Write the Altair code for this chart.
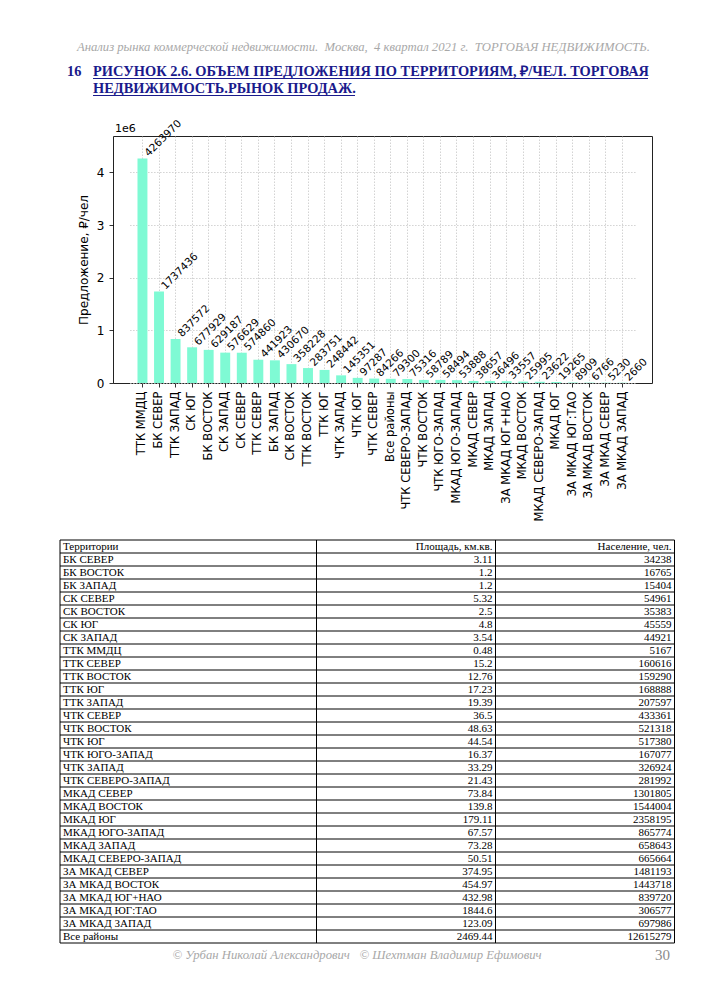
import altair as alt
import pandas as pd

# ---------------- text content ----------------
header_text = "Анализ рынка коммерческой недвижимости.\u00a0 Москва,\u00a0 4 квартал 2021 г.\u00a0 ТОРГОВАЯ НЕДВИЖИМОСТЬ."
title_num = "16"
title_lines = [
    "РИСУНОК 2.6. ОБЪЕМ ПРЕДЛОЖЕНИЯ ПО ТЕРРИТОРИЯМ, ₽/ЧЕЛ. ТОРГОВАЯ",
    "НЕДВИЖИМОСТЬ.РЫНОК ПРОДАЖ.",
]
y_title = "Предложение, ₽/чел"
offset_text = "1e6"
footer_text = "© Урбан Николай Александрович\u00a0\u00a0 © Шехтман Владимир Ефимович"
page_num = "30"

# ---------------- bar chart data ----------------
bar_cats = [
    "ТТК ММДЦ", "БК СЕВЕР", "ТТК ЗАПАД", "СК ЮГ", "БК ВОСТОК", "СК ЗАПАД",
    "СК СЕВЕР", "ТТК СЕВЕР", "БК ЗАПАД", "СК ВОСТОК", "ТТК ВОСТОК", "ТТК ЮГ",
    "ЧТК ЗАПАД", "ЧТК ЮГ", "ЧТК СЕВЕР", "Все районы", "ЧТК СЕВЕРО-ЗАПАД",
    "ЧТК ВОСТОК", "ЧТК ЮГО-ЗАПАД", "МКАД ЮГО-ЗАПАД", "МКАД СЕВЕР", "МКАД ЗАПАД",
    "ЗА МКАД ЮГ+НАО", "МКАД ВОСТОК", "МКАД СЕВЕРО-ЗАПАД", "МКАД ЮГ",
    "ЗА МКАД ЮГ:ТАО", "ЗА МКАД ВОСТОК", "ЗА МКАД СЕВЕР", "ЗА МКАД ЗАПАД",
]
bar_vals = [
    4263970, 1737436, 837572, 677929, 629187, 576629, 574860, 441923, 430670,
    358228, 283751, 248442, 145351, 97287, 84266, 79300, 75316, 58789, 58494,
    53888, 38657, 36496, 33557, 25995, 23622, 19265, 8909, 6766, 5230, 2660,
]
y_ticks = [0, 1000000, 2000000, 3000000, 4000000]
y_max = 4690367

# ---------------- table data ----------------
table_header = ["Территории", "Площадь, км.кв.", "Население, чел."]
table_names = [
    "БК СЕВЕР", "БК ВОСТОК", "БК ЗАПАД", "СК СЕВЕР", "СК ВОСТОК", "СК ЮГ",
    "СК ЗАПАД", "ТТК ММДЦ", "ТТК СЕВЕР", "ТТК ВОСТОК", "ТТК ЮГ", "ТТК ЗАПАД",
    "ЧТК СЕВЕР", "ЧТК ВОСТОК", "ЧТК ЮГ", "ЧТК ЮГО-ЗАПАД", "ЧТК ЗАПАД",
    "ЧТК СЕВЕРО-ЗАПАД", "МКАД СЕВЕР", "МКАД ВОСТОК", "МКАД ЮГ", "МКАД ЮГО-ЗАПАД",
    "МКАД ЗАПАД", "МКАД СЕВЕРО-ЗАПАД", "ЗА МКАД СЕВЕР", "ЗА МКАД ВОСТОК",
    "ЗА МКАД ЮГ+НАО", "ЗА МКАД ЮГ:ТАО", "ЗА МКАД ЗАПАД", "Все районы",
]
table_area = [
    3.11, 1.2, 1.2, 5.32, 2.5, 4.8, 3.54, 0.48, 15.2, 12.76, 17.23, 19.39,
    36.5, 48.63, 44.54, 16.37, 33.29, 21.43, 73.84, 139.8, 179.11, 67.57,
    73.28, 50.51, 374.95, 454.97, 432.98, 1844.6, 123.09, 2469.44,
]
table_pop = [
    34238, 16765, 15404, 54961, 35383, 45559, 44921, 5167, 160616, 159290,
    168888, 207597, 433361, 521318, 517380, 167077, 326924, 281992, 1301805,
    1544004, 2358195, 865774, 658643, 665664, 1481193, 1443718, 839720,
    306577, 697986, 12615279,
]

# ---------------- layout constants (pixels, relative to plot origin) ----------------
W, H = 539, 247
X_MARGIN = 16.55
T_TOP, T_BOT = 404, 807
COL_X = [-53, 203.5, 382.5, 561.5]
SANS = "DejaVu Sans"
SERIF = "Liberation Serif"
TITLE_COLOR = "#1a1a8c"
GRAY = "#a8a8a8"

one = pd.DataFrame({"a": [0]})

# ---------------- bar chart ----------------
bar_df = pd.DataFrame({"cat": bar_cats, "val": bar_vals})
x_enc = alt.X(
    "cat:N", sort=bar_cats, title=None,
    scale=alt.Scale(paddingInner=0.4, paddingOuter=0.48,
                    range=[X_MARGIN, W - X_MARGIN]),
    axis=alt.Axis(labelAngle=270, labelFontSize=11.5, labelFont=SANS,
                  labelColor="black", tickColor="black", tickSize=4,
                  tickWidth=0.8, labelPadding=4, grid=True, domain=False,
                  labelOverlap=False, labelLimit=300),
)
y_enc = alt.Y(
    "val:Q", title=y_title,
    scale=alt.Scale(domain=[0, y_max], nice=False, zero=True),
    axis=alt.Axis(values=y_ticks, labelExpr="format(datum.value/1000000,'d')",
                  labelFontSize=12, labelFont=SANS, labelColor="black",
                  tickColor="black", tickSize=4, tickWidth=0.8, labelPadding=5,
                  grid=True, domain=False, titleFont=SANS, titleFontSize=12,
                  titleFontWeight="normal", titleColor="black", titlePadding=6),
)
bars = alt.Chart(bar_df).mark_bar(color="#7FFAD4").encode(x=x_enc, y=y_enc)
labels = alt.Chart(bar_df).mark_text(
    angle=315, align="left", baseline="bottom", dx=5.5, dy=5.5,
    fontSize=10.5, font=SANS, color="black",
).encode(
    x=alt.X("cat:N", sort=bar_cats),
    y=alt.Y("val:Q"),
    text=alt.Text("val:Q", format="d"),
)
offset_lbl = alt.Chart(one).mark_text(
    align="left", baseline="alphabetic", fontSize=11, font=SANS, color="black"
).encode(x=alt.value(2), y=alt.value(-4), text=alt.value(offset_text))
bar_layer = alt.layer(bars, labels, offset_lbl)

# ---------------- table ----------------
tscale = alt.Scale(domain=[0, 31], range=[T_TOP, T_BOT], nice=False, zero=False)
rows_df = pd.DataFrame({
    "name": [table_header[0]] + table_names,
    "area": [table_header[1]] + [str(v) for v in table_area],
    "pop": [table_header[2]] + [str(v) for v in table_pop],
})
rows_df["mid"] = [i + 0.5 for i in range(len(rows_df))]
lines_df = pd.DataFrame({"b": list(range(len(rows_df) + 1))})

hlines = alt.Chart(lines_df).mark_rule(color="black", strokeWidth=1).encode(
    y=alt.Y("b:Q", scale=tscale, axis=None),
    x=alt.value(COL_X[0]), x2=alt.value(COL_X[-1]),
)
vlines = [
    alt.Chart(one).mark_rule(color="black", strokeWidth=1).encode(
        x=alt.value(cx), y=alt.value(T_TOP), y2=alt.value(T_BOT)
    )
    for cx in COL_X
]
txt_kw = dict(font=SERIF, fontSize=11, color="black", baseline="middle", dy=0.5)
t_name = alt.Chart(rows_df).mark_text(align="left", **txt_kw).encode(
    x=alt.value(COL_X[0] + 3), y=alt.Y("mid:Q", scale=tscale, axis=None), text="name:N")
t_area = alt.Chart(rows_df).mark_text(align="right", **txt_kw).encode(
    x=alt.value(COL_X[2] - 3), y=alt.Y("mid:Q", scale=tscale, axis=None), text="area:N")
t_pop = alt.Chart(rows_df).mark_text(align="right", **txt_kw).encode(
    x=alt.value(COL_X[3] - 3), y=alt.Y("mid:Q", scale=tscale, axis=None), text="pop:N")
table_layer = alt.layer(hlines, *vlines, t_name, t_area, t_pop)

# ---------------- page texts ----------------
def txt(s, x, y, **kw):
    return alt.Chart(one).mark_text(**kw).encode(
        x=alt.value(x), y=alt.value(y), text=alt.value(s))

head = txt(header_text, 537, -85, align="right", baseline="alphabetic",
           font=SERIF, fontSize=12.7, fontStyle="italic", color=GRAY)
tnum = txt(title_num, -46, -60, align="left", baseline="alphabetic", font=SERIF,
           fontSize=14.4, fontWeight="bold", color=TITLE_COLOR)
t1 = txt(title_lines[0], -20, -60, align="left", baseline="alphabetic", font=SERIF,
         fontSize=14.4, fontWeight="bold", color=TITLE_COLOR)
t2 = txt(title_lines[1], -20, -43, align="left", baseline="alphabetic", font=SERIF,
         fontSize=14.4, fontWeight="bold", color=TITLE_COLOR)
u1 = alt.Chart(one).mark_rule(color=TITLE_COLOR, strokeWidth=1.2).encode(
    x=alt.value(-20), x2=alt.value(535), y=alt.value(-57.5))
u2 = alt.Chart(one).mark_rule(color=TITLE_COLOR, strokeWidth=1.2).encode(
    x=alt.value(-20), x2=alt.value(242), y=alt.value(-40.5))
foot = txt(footer_text, 244, 823, align="center", baseline="alphabetic",
           font=SERIF, fontSize=12.7, fontStyle="italic", color=GRAY)
pnum = txt(page_num, 542, 824, align="left", baseline="alphabetic",
           font=SERIF, fontSize=15, color="#8c8c8c")
# invisible anchor fixing the top-left corner of the page
anchor = alt.Chart(one).mark_rule(opacity=0, strokeWidth=1).encode(
    x=alt.value(-104.5), x2=alt.value(-100), y=alt.value(-127.5))

chart = alt.layer(
    bar_layer, table_layer, head, tnum, t1, t2, u1, u2, foot, pnum, anchor
).resolve_scale(y="independent").properties(
    width=W, height=H, padding=0, background="white"
).configure_view(
    stroke="#222222", strokeWidth=1
).configure_axis(
    gridColor="#c8c8c8", gridDash=[1.5, 1.5], gridWidth=0.8
)

chart.save("out.html", embed_options={"renderer": "svg", "actions": False})
